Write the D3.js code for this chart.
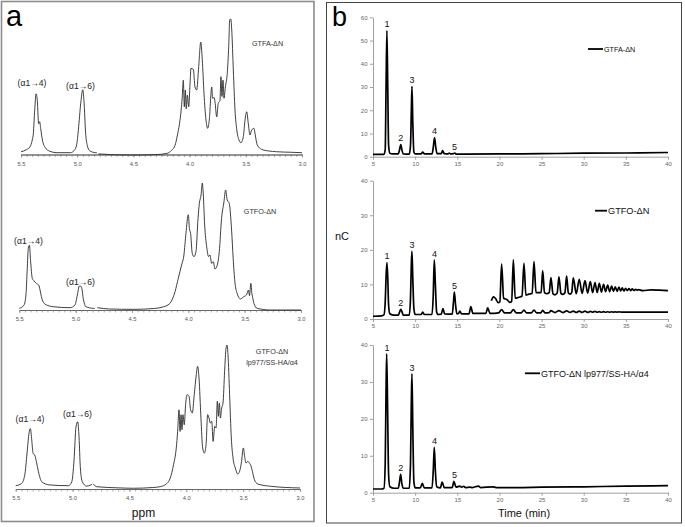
<!DOCTYPE html>
<html><head><meta charset="utf-8">
<script src="https://cdn.jsdelivr.net/npm/d3@7"></script>
<style>
body{margin:0;background:#fff}
svg{display:block;font-family:"Liberation Sans",Arial,Helvetica,sans-serif}
</style>
</head><body>
<svg id="c" width="685" height="527"></svg>
<script>
// ---------------- DATA ----------------
// NMR spectra: [ppm, relative intensity (% of tallest peak)], null = gap (water region)
const nmrGTFA = [[5.50,2.4],[5.45,4],[5.42,6],[5.40,11],[5.39,16],[5.378,33],[5.366,45],[5.355,40],[5.343,23],[5.334,24.5],[5.325,19.6],[5.307,10],[5.28,5],[5.25,3],[5.18,1.7],[5.06,1.7],[5.02,4],[5.0,10],[4.987,21],[4.966,40],[4.951,48],[4.94,40],[4.925,16],[4.91,7],[4.89,3.2],[4.84,1.7],[4.825,1.6],[4.82,null],[4.812,0.8],[4.7,0.3],[4.5,0],[4.3,0.3],[4.2,1.2],[4.16,3.5],[4.13,7],[4.11,14],[4.09,23],[4.075,33],[4.066,42],[4.056,55],[4.047,35.5],[4.038,47.8],[4.03,34],[4.02,44],[4.008,35.5],[3.996,52.7],[3.988,63.7],[3.967,63],[3.952,50],[3.937,47.8],[3.919,65],[3.901,83],[3.887,69.9],[3.872,45.4],[3.854,25.7],[3.839,19.6],[3.825,25.7],[3.803,50],[3.795,41.7],[3.783,42.4],[3.774,39],[3.759,28],[3.745,38],[3.73,40],[3.721,57.6],[3.712,43],[3.703,55],[3.694,41.7],[3.682,50],[3.665,60],[3.652,79.6],[3.643,99.3],[3.634,100],[3.625,91.9],[3.611,62.5],[3.596,33],[3.58,18.4],[3.56,11],[3.543,9],[3.522,13.5],[3.507,25.7],[3.492,31.8],[3.478,23.3],[3.463,14.7],[3.448,18.4],[3.427,19.6],[3.416,14.7],[3.398,7.4],[3.36,4.2],[3.3,3],[3.225,2.4],[3.1,2],[3.0,1.7]];
const nmrGTFO = [[5.5,1.3],[5.458,3.9],[5.44,13],[5.43,31.5],[5.42,48.6],[5.41,51],[5.40,39],[5.385,25],[5.37,23],[5.35,21],[5.328,19.7],[5.316,15.7],[5.30,9.2],[5.27,4.5],[5.2,2.6],[5.05,1.8],[5.006,3.9],[4.985,11.8],[4.967,18.9],[4.95,18.4],[4.93,7.9],[4.91,2.6],[4.843,1.3],[4.83,1.2],[4.82,null],[4.808,1.8],[4.7,0.8],[4.49,0.5],[4.3,1.2],[4.22,2.5],[4.18,4],[4.163,5.2],[4.118,14.4],[4.089,25],[4.06,35.4],[4.039,43.3],[4.021,60.4],[4.0,75],[3.99,64],[3.98,60.4],[3.965,44.6],[3.95,42],[3.932,46],[3.914,72],[3.902,84],[3.887,90.6],[3.876,100],[3.867,90.6],[3.855,66.9],[3.837,49.8],[3.82,42],[3.808,43.3],[3.793,36.7],[3.778,38],[3.764,32.3],[3.743,35.4],[3.725,46],[3.705,72],[3.684,85],[3.669,94.5],[3.655,86.6],[3.637,84],[3.616,63],[3.602,40.7],[3.587,22.3],[3.567,13.1],[3.537,8.7],[3.508,10.5],[3.484,11.8],[3.466,15.7],[3.457,11.3],[3.445,21],[3.436,13.1],[3.427,9.2],[3.418,5.2],[3.389,1.3],[3.27,0],[3.0,0]];
const nmrGTFOmut = [[5.5,2.3],[5.447,3.9],[5.418,10.9],[5.398,27],[5.383,38.7],[5.371,42],[5.359,34],[5.347,24.8],[5.333,23.6],[5.318,19],[5.30,12],[5.271,5],[5.2,2.8],[5.037,2.3],[5.007,5],[4.987,20],[4.97,43],[4.955,46.7],[4.943,36],[4.932,15.5],[4.914,5],[4.876,2],[4.84,2.8],[4.83,3.2],[4.825,null],[4.818,3.5],[4.789,1.6],[4.6,0.8],[4.466,0.5],[4.3,1],[4.23,1.6],[4.17,3.9],[4.141,7.6],[4.112,16.9],[4.088,28.5],[4.076,40],[4.064,55],[4.055,40],[4.046,51.6],[4.038,41.2],[4.029,51.6],[4.018,44.6],[4.006,58.5],[3.994,65.5],[3.976,64.4],[3.962,55],[3.947,52.8],[3.93,65.5],[3.912,79.4],[3.9,85.2],[3.888,77],[3.871,49.3],[3.856,28.5],[3.841,25],[3.826,30.8],[3.812,51.6],[3.8,49.3],[3.788,45.8],[3.776,47],[3.764,33],[3.75,43.5],[3.738,42.4],[3.727,61],[3.718,50.5],[3.709,59.7],[3.7,49.3],[3.689,56.2],[3.677,59.7],[3.663,81.7],[3.65,97.9],[3.642,100],[3.633,93.3],[3.619,65.5],[3.604,35.4],[3.589,21.5],[3.569,14.6],[3.548,10.4],[3.531,12.3],[3.516,18],[3.498,28.5],[3.487,22.7],[3.474,18],[3.46,19.2],[3.445,18],[3.43,15.8],[3.419,12.3],[3.401,6.5],[3.372,3.5],[3.26,1.9],[3.0,0.7]];
const nmrTickLabels = [5.5, 5.0, 4.5, 4.0, 3.5, 3.0];
const nmrNames = [["GTFA-ΔN"], ["GTFO-ΔN"], ["GTFO-ΔN", "lp977/SS-HA/α4"]];
const linkLabels = ["(α1→4)", "(α1→6)"];

// HPAEC-PAD chromatograms: [time (min), nC]
const chromGTFA = [[5,1.0],[6.3,1.0],[6.45,3],[6.55,30],[6.65,54.3],[6.75,30],[6.85,5],[7.0,1.5],[7.3,1.2],[8.0,1.2],[8.15,3],[8.3,5.2],[8.45,2.5],[8.6,1.2],[9.3,1.1],[9.45,5],[9.55,20],[9.62,30.3],[9.72,15],[9.85,2],[10.0,1.2],[10.7,1.2],[10.9,2.0],[11.1,1.2],[12.0,1.2],[12.15,4],[12.3,8.2],[12.45,4],[12.6,1.3],[13.1,1.3],[13.25,2.6],[13.45,1.3],[13.9,1.2],[14.05,1.6],[14.2,1.2],[14.55,1.3],[14.7,1.6],[14.9,1.1],[16,1.1],[20,1.2],[25,1.3],[30,1.5],[35,1.6],[40,1.8]];
const chromGTFO = [[5,0.8],[6.0,0.9],[6.3,1.2],[6.45,5],[6.55,12],[6.65,16.3],[6.75,12],[6.85,4],[7.0,1.5],[7.5,1.1],[8.0,1.1],[8.15,2],[8.3,2.8],[8.45,2],[8.6,1.1],[9.3,1.1],[9.45,6],[9.55,16],[9.62,19.6],[9.72,12],[9.85,3],[10.0,1.3],[10.7,1.3],[10.9,2.0],[11.1,1.3],[12.0,1.3],[12.15,7],[12.27,17.1],[12.4,10],[12.55,2],[12.7,1.3],[13.1,1.4],[13.3,3.0],[13.5,1.5],[14.4,1.4],[14.55,5],[14.65,7.8],[14.8,4],[14.95,1.5],[15.15,1.6],[15.3,2.3],[15.5,1.5],[16.4,1.5],[16.6,3.6],[16.85,1.6],[18.4,1.6],[18.6,3.2],[18.9,1.6],[19.9,1.75],[20.26,2.7],[20.6,1.8],[21.3,1.8],[21.65,2.7],[22.0,1.8],[22.6,1.8],[22.91,2.6],[23.2,1.8],[23.8,1.8],[24.1,2.6],[24.4,1.8],[24.9,1.8],[25.13,2.5],[25.4,1.8],[25.9,1.85],[26.11,2.4],[26.58,1.85],[27.06,2.4],[27.52,1.85],[27.97,2.35],[28.37,1.9],[28.76,2.3],[29.12,1.9],[29.47,2.3],[29.81,1.9],[30.15,2.25],[30.47,1.9],[30.78,2.2],[31.06,1.95],[31.34,2.2],[31.6,1.95],[31.85,2.15],[32.1,1.95],[32.36,2.15],[32.6,1.95],[32.84,2.1],[33.08,1.95],[33.31,2.1],[33.53,1.97],[33.74,2.07],[33.96,1.98],[34.18,2.05],[34.5,2.0],[36,2.0],[40,2.0]];
const chromGTFOoffset = [[19.05,5.3],[19.3,6.4],[19.55,5.9],[19.85,4.7],[20.05,5.0],[20.26,15.9],[20.5,6.0],[20.9,5.6],[21.25,4.8],[21.45,5.0],[21.65,17.1],[21.87,6.0],[22.3,6.3],[22.68,6.6],[22.91,16.1],[23.14,6.9],[23.5,7.2],[23.88,7.4],[24.1,16.6],[24.34,7.6],[24.7,7.6],[24.95,7.7],[25.13,14.0],[25.35,7.6],[25.62,7.3],[25.9,7.6],[26.11,12.0],[26.35,7.3],[26.58,7.0],[26.85,7.5],[27.06,12.2],[27.3,7.4],[27.52,7.1],[27.77,7.6],[27.97,12.4],[28.18,7.5],[28.37,7.2],[28.58,7.7],[28.76,11.9],[29.12,7.3],[29.47,11.5],[29.81,7.4],[30.15,11.1],[30.47,7.5],[30.78,10.8],[31.06,7.6],[31.34,10.5],[31.6,7.7],[31.85,10.3],[32.1,7.8],[32.36,10.0],[32.6,7.9],[32.84,9.8],[33.08,7.9],[33.31,9.5],[33.53,8.0],[33.74,9.3],[33.96,8.0],[34.18,9.2],[34.38,8.1],[34.57,9.0],[34.77,8.1],[34.97,8.9],[35.17,8.2],[35.37,8.8],[35.57,8.2],[35.76,8.7],[35.96,8.25],[36.16,8.6],[36.32,8.3],[36.47,8.5],[37.0,8.2],[38.0,8.45],[39.0,8.35],[40.0,8.2]];
const chromGTFOmut = [[5,1.0],[6.0,1.0],[6.3,1.2],[6.45,8],[6.55,28],[6.62,37.6],[6.72,25],[6.85,5],[7.0,1.6],[7.5,1.2],[8.0,1.2],[8.15,3],[8.28,5.0],[8.42,2.5],[8.6,1.2],[9.3,1.2],[9.45,8],[9.55,25],[9.62,32.2],[9.72,18],[9.85,3],[10.0,1.3],[10.6,1.3],[10.85,2.5],[11.1,1.3],[12.0,1.3],[12.15,6],[12.27,12.3],[12.4,6],[12.55,1.6],[13.0,1.3],[13.2,2.9],[13.45,1.4],[14.4,1.4],[14.6,3.1],[14.85,1.5],[15.3,1.8],[15.5,1.5],[15.75,1.7],[16.0,1.4],[16.5,1.5],[16.8,1.4],[17.5,1.8],[17.8,1.4],[19.2,1.6],[19.6,1.4],[22,1.4],[25,1.5],[30,1.6],[35,1.8],[40,1.9]];
const timeTicks = [5, 10, 15, 20, 25, 30, 35, 40];
const nCTicks60 = [0, 10, 20, 30, 40, 50, 60];
const nCTicks40 = [0, 10, 20, 30, 40];
const peakLabels = ["1", "2", "3", "4", "5"];
const peakTimes = [6.65, 8.3, 9.62, 12.3, 14.68];
const chromNames = ["GTFA-ΔN", "GTFO-ΔN", "GTFO-ΔN lp977/SS-HA/α4"];

// ---------------- DRAW ----------------
const svg = d3.select("#c");
svg.append("rect").attr("width",685).attr("height",527).attr("fill","#fff");
// panel frames
svg.append("rect").attr("x",1.5).attr("y",1.5).attr("width",312.5).attr("height",520)
  .attr("fill","none").attr("stroke","#8c8c8c").attr("stroke-width",1.6);
svg.append("rect").attr("x",326.5).attr("y",2.5).attr("width",355).attr("height",520.5)
  .attr("fill","none").attr("stroke","#444").attr("stroke-width",1);
svg.append("text").attr("x",6).attr("y",26).attr("font-size",29).text("a");
svg.append("text").attr("x",332).attr("y",26).attr("font-size",27).text("b");

// ----- panel a: NMR -----
const nmrSets = [nmrGTFA, nmrGTFO, nmrGTFOmut];
const nmrLayout = [
  {x0:21, x1:302, base:155, top:19, axisY:154.5, name:[267.5,45.5], l4:[32,86], l6:[80.5,88.5]},
  {x0:19.3, x1:301, base:310, top:183, axisY:310, name:[260,213.5], l4:[28.5,243.5], l6:[80.5,284.5]},
  {x0:15.7, x1:300, base:489, top:345, axisY:489, name:[272,364.5], l4:[30,421.5], l6:[77.5,417]}
];
const minorPPM = d3.range(3.0, 5.5001, 0.05);
nmrLayout.forEach((L, i) => {
  const x = d3.scaleLinear().domain([5.5, 3.0]).range([L.x0, L.x1]);
  const y = d3.scaleLinear().domain([0, 100]).range([L.base, L.top]);
  const gm = svg.append("g").attr("transform", `translate(0,${L.axisY})`)
    .call(d3.axisBottom(x).tickValues(minorPPM).tickSize(2.5).tickSizeOuter(0).tickFormat(""));
  const g = svg.append("g").attr("transform", `translate(0,${L.axisY})`)
    .call(d3.axisBottom(x).tickValues(nmrTickLabels).tickSize(3).tickSizeOuter(0).tickPadding(4).tickFormat(d3.format(".1f")));
  [gm, g].forEach(s => {
    s.select(".domain").attr("stroke","#666").attr("stroke-width",0.9);
    s.selectAll(".tick line").attr("stroke","#777").attr("stroke-width",0.6);
    s.selectAll(".tick text").attr("font-size",5.8).attr("fill","#555").attr("font-family","Liberation Sans, Arial");
  });
  const line = d3.line().defined(d => d[1] !== null).x(d => x(d[0])).y(d => y(d[1])).curve(d3.curveMonotoneX);
  svg.append("path").datum(nmrSets[i]).attr("d", line)
    .attr("fill","none").attr("stroke","#2a2a2a").attr("stroke-width",0.9).attr("stroke-linejoin","round");
  const t = svg.append("text").attr("x", L.name[0]).attr("y", L.name[1] - (nmrNames[i].length-1)*10.5)
    .attr("text-anchor","middle").attr("font-size",7.2).attr("fill","#333");
  nmrNames[i].forEach((s, k) => t.append("tspan").attr("x", L.name[0]).attr("dy", k ? 10.5 : 0).text(s));
  svg.append("text").attr("x", L.l4[0]).attr("y", L.l4[1]).attr("text-anchor","middle").attr("font-size",8.6).attr("fill","#222").text(linkLabels[0]);
  svg.append("text").attr("x", L.l6[0]).attr("y", L.l6[1]).attr("text-anchor","middle").attr("font-size",8.6).attr("fill","#222").text(linkLabels[1]);
});
svg.append("text").attr("x",143.5).attr("y",516.5).attr("text-anchor","middle").attr("font-size",12).attr("fill","#111").text("ppm");

// ----- panel b: chromatograms -----
const x = d3.scaleLinear().domain([5, 40]).range([373, 668]);
const chromLayout = [
  {ymax:60, y0:156.7, y1:17.3, ticks:nCTicks60, sets:[chromGTFA], leg:[588,603,49], fs:7.2},
  {ymax:40, y0:319, y1:180.7, ticks:nCTicks40, sets:[chromGTFO, chromGTFOoffset], leg:[595,607,210.7], fs:9.2},
  {ymax:40, y0:492.7, y1:345, ticks:nCTicks40, sets:[chromGTFOmut], leg:[525,540,373.3], fs:9}
];
chromLayout.forEach((L, i) => {
  const y = d3.scaleLinear().domain([0, L.ymax]).range([L.y0, L.y1]);
  const gx = svg.append("g").attr("transform", `translate(0,${L.y0})`)
    .call(d3.axisBottom(x).tickValues(timeTicks).tickSize(3).tickSizeOuter(0).tickPadding(2));
  const gy = svg.append("g").attr("transform", `translate(${x(5)},0)`)
    .call(d3.axisLeft(y).tickValues(L.ticks).tickSize(3).tickSizeOuter(0).tickPadding(2.5));
  [gx, gy].forEach(s => {
    s.select(".domain").attr("stroke","#a0a0a0").attr("stroke-width",1);
    s.selectAll(".tick line").attr("stroke","#a0a0a0");
    s.selectAll(".tick text").attr("font-size",6).attr("fill","#666").attr("font-family","Liberation Sans, Arial");
  });
  const line = d3.line().x(d => x(d[0])).y(d => y(d[1])).curve(d3.curveMonotoneX);
  L.sets.forEach(s => svg.append("path").datum(s).attr("d", line)
    .attr("fill","none").attr("stroke","#000").attr("stroke-width",1.7).attr("stroke-linejoin","round"));
  // peak labels
  const main = L.sets[0];
  peakTimes.forEach((t, k) => {
    const near = main.filter(d => Math.abs(d[0] - t) <= 0.2);
    const top = d3.max(near, d => d[1]);
    svg.append("text").attr("x", x(t)).attr("y", y(top) - 3.2).attr("text-anchor","middle")
      .attr("font-size",9).attr("fill","#111").text(peakLabels[k]);
  });
  // legend
  svg.append("line").attr("x1", L.leg[0]).attr("x2", L.leg[1]).attr("y1", L.leg[2]).attr("y2", L.leg[2])
    .attr("stroke","#000").attr("stroke-width",1.8);
  svg.append("text").attr("x", L.leg[1] + 1).attr("y", L.leg[2] + L.fs*0.36).attr("font-size", L.fs)
    .attr("fill","#111").text(chromNames[i]);
});
svg.append("text").attr("x",342).attr("y",240).attr("text-anchor","middle").attr("font-size",11).attr("fill","#111").text("nC");
svg.append("text").attr("x",524).attr("y",516.5).attr("text-anchor","middle").attr("font-size",11).attr("fill","#111").text("Time (min)");
</script>
</body></html>
